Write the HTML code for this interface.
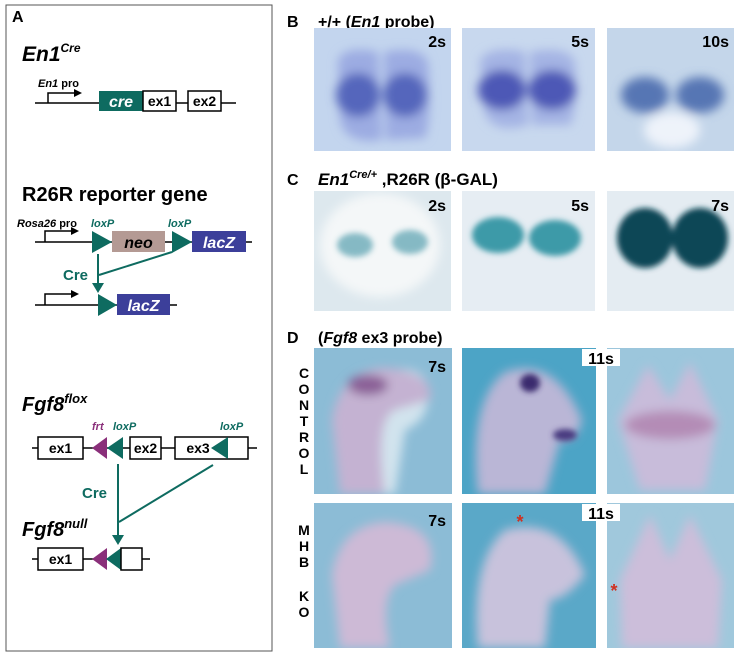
<!DOCTYPE html>
<html><head><meta charset="utf-8"><style>
html,body{margin:0;padding:0;background:#fff;}
svg{display:block;font-family:"Liberation Sans",sans-serif;}
</style></head><body>
<svg width="740" height="654" viewBox="0 0 740 654" xmlns="http://www.w3.org/2000/svg">
<defs>
<marker id="ah" markerWidth="8" markerHeight="8" refX="6" refY="4" orient="auto" markerUnits="userSpaceOnUse"><path d="M0,0 L8,4 L0,8 z" fill="#000"/></marker>
<marker id="ahg" markerWidth="10" markerHeight="12" refX="8" refY="6" orient="auto" markerUnits="userSpaceOnUse"><path d="M0,0 L10,6 L0,12 z" fill="#0e6b60"/></marker>
<filter id="bl" x="-30%" y="-30%" width="160%" height="160%"><feGaussianBlur stdDeviation="5"/></filter>
<filter id="bl2" x="-30%" y="-30%" width="160%" height="160%"><feGaussianBlur stdDeviation="3"/></filter>
<clipPath id="c1"><rect x="314" y="28" width="137" height="123"/></clipPath>
<clipPath id="c2"><rect x="462" y="28" width="133" height="123"/></clipPath>
<clipPath id="c3"><rect x="607" y="28" width="127" height="123"/></clipPath>
<clipPath id="c4"><rect x="314" y="191" width="137" height="120"/></clipPath>
<clipPath id="c5"><rect x="462" y="191" width="133" height="120"/></clipPath>
<clipPath id="c6"><rect x="607" y="191" width="127" height="120"/></clipPath>
<clipPath id="d1"><rect x="314" y="348" width="138" height="146"/></clipPath>
<clipPath id="d2"><rect x="462" y="348" width="134" height="146"/></clipPath>
<clipPath id="d3"><rect x="607" y="348" width="127" height="146"/></clipPath>
<clipPath id="d4"><rect x="314" y="503" width="138" height="145"/></clipPath>
<clipPath id="d5"><rect x="462" y="503" width="134" height="145"/></clipPath>
<clipPath id="d6"><rect x="607" y="503" width="127" height="145"/></clipPath>
</defs>

<!-- Panel A -->
<rect x="6" y="5" width="266" height="646" fill="#fff" stroke="#555" stroke-width="1"/>
<text x="12" y="22" font-size="16" font-weight="bold">A</text>
<text x="22" y="61" font-size="21" font-weight="bold" font-style="italic">En1<tspan font-size="12" dy="-9">Cre</tspan></text>

<text x="38" y="87" font-size="11" font-weight="bold"><tspan font-style="italic">En1</tspan> pro</text>
<line x1="35" y1="103" x2="236" y2="103" stroke="#000" stroke-width="1.5"/>
<polyline points="48,103 48,93 80,93" fill="none" stroke="#000" stroke-width="1.5" marker-end="url(#ah)"/>
<rect x="99" y="91" width="44" height="20" fill="#0e6b60"/>
<text x="121" y="107" font-size="16" font-weight="bold" font-style="italic" fill="#fff" text-anchor="middle">cre</text>
<rect x="143" y="91" width="33" height="20" fill="#fff" stroke="#000" stroke-width="1.5"/>
<text x="159.5" y="106" font-size="14" font-weight="bold" text-anchor="middle">ex1</text>
<rect x="188" y="91" width="33" height="20" fill="#fff" stroke="#000" stroke-width="1.5"/>
<text x="204.5" y="106" font-size="14" font-weight="bold" text-anchor="middle">ex2</text>

<text x="22" y="201" font-size="20" font-weight="bold">R26R reporter gene</text>
<text x="17" y="227" font-size="11" font-weight="bold"><tspan font-style="italic">Rosa26</tspan> pro</text>
<text x="91" y="227" font-size="11" font-weight="bold" font-style="italic" fill="#0e6b60">loxP</text>
<text x="168" y="227" font-size="11" font-weight="bold" font-style="italic" fill="#0e6b60">loxP</text>
<line x1="35" y1="242" x2="252" y2="242" stroke="#000" stroke-width="1.5"/>
<polyline points="45,242 45,231 77,231" fill="none" stroke="#000" stroke-width="1.5" marker-end="url(#ah)"/>
<polygon points="92,231 112,242 92,253" fill="#0e6b60"/>
<rect x="112" y="231" width="53" height="21" fill="#b49a94"/>
<text x="138.5" y="248" font-size="16" font-weight="bold" font-style="italic" text-anchor="middle">neo</text>
<polygon points="172,231 192,242 172,253" fill="#0e6b60"/>
<rect x="192" y="231" width="54" height="21" fill="#3c3f9a"/>
<text x="219" y="248" font-size="16" font-weight="bold" font-style="italic" fill="#fff" text-anchor="middle">lacZ</text>
<line x1="98" y1="254" x2="98" y2="291" stroke="#0e6b60" stroke-width="2" marker-end="url(#ahg)"/>
<line x1="172" y1="252" x2="99" y2="275" stroke="#0e6b60" stroke-width="2"/>
<text x="63" y="280" font-size="15" font-weight="bold" fill="#0e6b60">Cre</text>
<line x1="35" y1="305" x2="177" y2="305" stroke="#000" stroke-width="1.5"/>
<polyline points="45,305 45,294 77,294" fill="none" stroke="#000" stroke-width="1.5" marker-end="url(#ah)"/>
<polygon points="98,294 117,305 98,316" fill="#0e6b60"/>
<rect x="117" y="294" width="53" height="21" fill="#3c3f9a"/>
<text x="143.5" y="311" font-size="16" font-weight="bold" font-style="italic" fill="#fff" text-anchor="middle">lacZ</text>

<text x="22" y="411" font-size="20" font-weight="bold" font-style="italic">Fgf8<tspan font-size="13" dy="-8">flox</tspan></text>
<text x="92" y="430" font-size="11" font-weight="bold" font-style="italic" fill="#8a2f7a">frt</text>
<text x="113" y="430" font-size="11" font-weight="bold" font-style="italic" fill="#0e6b60">loxP</text>
<text x="220" y="430" font-size="11" font-weight="bold" font-style="italic" fill="#0e6b60">loxP</text>
<line x1="32" y1="448" x2="257" y2="448" stroke="#000" stroke-width="1.5"/>
<rect x="38" y="437" width="45" height="22" fill="#fff" stroke="#000" stroke-width="1.5"/>
<text x="60.5" y="453" font-size="14" font-weight="bold" text-anchor="middle">ex1</text>
<polygon points="107,437 92,448 107,459" fill="#8a2f7a"/>
<polygon points="123,437 107,448 123,459" fill="#0e6b60"/>
<rect x="130" y="437" width="31" height="22" fill="#fff" stroke="#000" stroke-width="1.5"/>
<text x="145.5" y="453" font-size="14" font-weight="bold" text-anchor="middle">ex2</text>
<rect x="175" y="437" width="73" height="22" fill="#fff" stroke="#000" stroke-width="1.5"/>
<text x="198" y="453" font-size="14" font-weight="bold" text-anchor="middle">ex3</text>
<polygon points="228,437 211,448 228,459" fill="#0e6b60"/>
<line x1="118" y1="464" x2="118" y2="543" stroke="#0e6b60" stroke-width="2" marker-end="url(#ahg)"/>
<line x1="213" y1="465" x2="119" y2="522" stroke="#0e6b60" stroke-width="2"/>
<text x="82" y="498" font-size="15" font-weight="bold" fill="#0e6b60">Cre</text>
<text x="22" y="536" font-size="20" font-weight="bold" font-style="italic">Fgf8<tspan font-size="13" dy="-8">null</tspan></text>
<line x1="32" y1="559" x2="150" y2="559" stroke="#000" stroke-width="1.5"/>
<rect x="38" y="548" width="45" height="22" fill="#fff" stroke="#000" stroke-width="1.5"/>
<text x="60.5" y="564" font-size="14" font-weight="bold" text-anchor="middle">ex1</text>
<polygon points="107,548 92,559 107,570" fill="#8a2f7a"/>
<polygon points="121,548 106,559 121,570" fill="#0e6b60"/>
<rect x="121" y="548" width="21" height="22" fill="#fff" stroke="#000" stroke-width="1.5"/>

<!-- Panel B -->
<text x="287" y="27" font-size="16" font-weight="bold">B</text>
<text x="318" y="27" font-size="16" font-weight="bold">+/+ (<tspan font-style="italic">En1</tspan> probe)</text>
<g clip-path="url(#c1)">
<rect x="314" y="28" width="137" height="123" fill="#c3d5ee"/>
<g filter="url(#bl)">
<path d="M338,60 Q345,45 378,52 L382,140 Q345,145 340,120 Z" fill="#9cace2"/>
<path d="M384,52 Q420,45 428,62 Q432,120 425,138 L386,140 Z" fill="#9cace2"/>
<ellipse cx="358" cy="95" rx="22" ry="22" fill="#5566bc"/><ellipse cx="405" cy="95" rx="22" ry="22" fill="#5566bc"/>
</g></g>
<g clip-path="url(#c2)">
<rect x="462" y="28" width="133" height="123" fill="#c8d8ee"/>
<g filter="url(#bl)">
<path d="M480,60 Q490,45 525,52 L528,125 Q490,135 484,110 Z" fill="#a4b4e4"/>
<path d="M530,52 Q568,45 575,62 Q578,110 570,125 L532,125 Z" fill="#a4b4e4"/>
<ellipse cx="502" cy="90" rx="24" ry="20" fill="#4e58b6"/><ellipse cx="552" cy="90" rx="24" ry="20" fill="#4e58b6"/>
</g></g>
<g clip-path="url(#c3)">
<rect x="607" y="28" width="127" height="123" fill="#c4d6ea"/>
<g filter="url(#bl)">
<ellipse cx="645" cy="95" rx="24" ry="18" fill="#5676b4"/><ellipse cx="700" cy="95" rx="24" ry="18" fill="#5676b4"/>
<ellipse cx="672" cy="130" rx="28" ry="18" fill="#eef3fa"/>
</g></g>
<text x="446" y="47" font-size="16" font-weight="bold" text-anchor="end">2s</text>
<text x="589" y="47" font-size="16" font-weight="bold" text-anchor="end">5s</text>
<text x="729" y="47" font-size="16" font-weight="bold" text-anchor="end">10s</text>

<!-- Panel C -->
<text x="287" y="185" font-size="16" font-weight="bold">C</text>
<text x="318" y="185" font-size="17" font-weight="bold"><tspan font-style="italic">En1<tspan font-size="11" dy="-7">Cre/+</tspan></tspan><tspan dy="7"> ,R26R (β-GAL)</tspan></text>
<g clip-path="url(#c4)">
<rect x="314" y="191" width="137" height="120" fill="#dde8ee"/>
<g filter="url(#bl)"><ellipse cx="380" cy="245" rx="60" ry="52" fill="#f4f7f8"/></g>
<g filter="url(#bl2)" opacity="0.8"><ellipse cx="355" cy="245" rx="18" ry="12" fill="#6aaab8"/><ellipse cx="410" cy="242" rx="18" ry="12" fill="#6aaab8"/></g>
</g>
<g clip-path="url(#c5)">
<rect x="462" y="191" width="133" height="120" fill="#e6edf3"/>
<g filter="url(#bl2)"><ellipse cx="498" cy="235" rx="26" ry="18" fill="#3c9aa8"/><ellipse cx="555" cy="238" rx="26" ry="18" fill="#3c9aa8"/></g>
</g>
<g clip-path="url(#c6)">
<rect x="607" y="191" width="127" height="120" fill="#e4ecf2"/>
<g filter="url(#bl2)"><ellipse cx="645" cy="238" rx="28" ry="30" fill="#0d4656"/><ellipse cx="700" cy="238" rx="28" ry="30" fill="#0d4656"/></g>
</g>
<text x="446" y="211" font-size="16" font-weight="bold" text-anchor="end">2s</text>
<text x="589" y="211" font-size="16" font-weight="bold" text-anchor="end">5s</text>
<text x="729" y="211" font-size="16" font-weight="bold" text-anchor="end">7s</text>

<!-- Panel D -->
<text x="287" y="343" font-size="16" font-weight="bold">D</text>
<text x="318" y="343" font-size="16" font-weight="bold">(<tspan font-style="italic">Fgf8</tspan> ex3 probe)</text>
<g font-size="14" font-weight="bold" text-anchor="middle">
<text x="304" y="378">C</text><text x="304" y="394">O</text><text x="304" y="410">N</text><text x="304" y="426">T</text><text x="304" y="442">R</text><text x="304" y="458">O</text><text x="304" y="474">L</text>
<text x="304" y="535">M</text><text x="304" y="551">H</text><text x="304" y="567">B</text><text x="304" y="601">K</text><text x="304" y="617">O</text>
</g>
<g clip-path="url(#d1)">
<rect x="314" y="348" width="138" height="146" fill="#8cbcd6"/>
<g filter="url(#bl)"><path d="M368,494 L362,460 L366,420 Q370,380 390,370 Q425,365 428,390 Q430,420 405,430 L395,494 Z" fill="#e4edf4" opacity="0.8"/>
<path d="M340,494 L332,420 Q340,370 385,368 Q435,372 430,400 L395,410 Q375,420 385,494 Z" fill="#c4b2d2"/>
<ellipse cx="368" cy="385" rx="20" ry="10" fill="#8a5e96"/></g>
</g>
<g clip-path="url(#d2)">
<rect x="462" y="348" width="134" height="146" fill="#4ca4c6"/>
<g filter="url(#bl)"><path d="M478,494 Q468,400 505,372 Q555,355 582,420 Q575,445 560,440 L545,494 Z" fill="#bab6d6"/></g>
<g filter="url(#bl2)"><ellipse cx="530" cy="383" rx="10" ry="9" fill="#3a2a6e"/><ellipse cx="565" cy="435" rx="12" ry="6" fill="#4a3a80"/></g>
</g>
<g clip-path="url(#d3)">
<rect x="607" y="348" width="127" height="146" fill="#9cc6dc"/>
<g filter="url(#bl)"><path d="M618,420 L648,365 L670,400 L690,362 L718,420 L705,490 L640,490 Z" fill="#c8bcda"/>
<ellipse cx="670" cy="425" rx="45" ry="14" fill="#b48cb6"/></g>
</g>
<g clip-path="url(#d4)">
<rect x="314" y="503" width="138" height="145" fill="#8cbcd6"/>
<g filter="url(#bl)"><path d="M340,648 L332,575 Q340,525 385,522 Q440,525 430,570 L395,585 Q380,600 390,648 Z" fill="#cdbad6"/></g>
</g>
<g clip-path="url(#d5)">
<rect x="462" y="503" width="134" height="145" fill="#5aa8c8"/>
<g filter="url(#bl)"><path d="M478,648 Q470,560 505,530 Q560,515 585,575 Q565,600 550,600 L545,648 Z" fill="#c8c2dc"/></g>
</g>
<g clip-path="url(#d6)">
<rect x="607" y="503" width="127" height="145" fill="#a0c8dc"/>
<g filter="url(#bl)"><path d="M620,580 L650,515 L670,560 L690,515 L722,580 L718,648 L622,648 Z" fill="#ccbeda"/></g>
</g>
<text x="446" y="372" font-size="16" font-weight="bold" text-anchor="end">7s</text>
<rect x="582" y="349" width="38" height="17" fill="#fff"/>
<text x="601" y="364" font-size="16" font-weight="bold" text-anchor="middle">11s</text>
<text x="446" y="526" font-size="16" font-weight="bold" text-anchor="end">7s</text>
<rect x="582" y="504" width="38" height="17" fill="#fff"/>
<text x="601" y="519" font-size="16" font-weight="bold" text-anchor="middle">11s</text>
<text x="520" y="528" font-size="18" font-weight="bold" fill="#d03020" text-anchor="middle">*</text>
<text x="614" y="597" font-size="18" font-weight="bold" fill="#d03020" text-anchor="middle">*</text>
</svg>
</body></html>
